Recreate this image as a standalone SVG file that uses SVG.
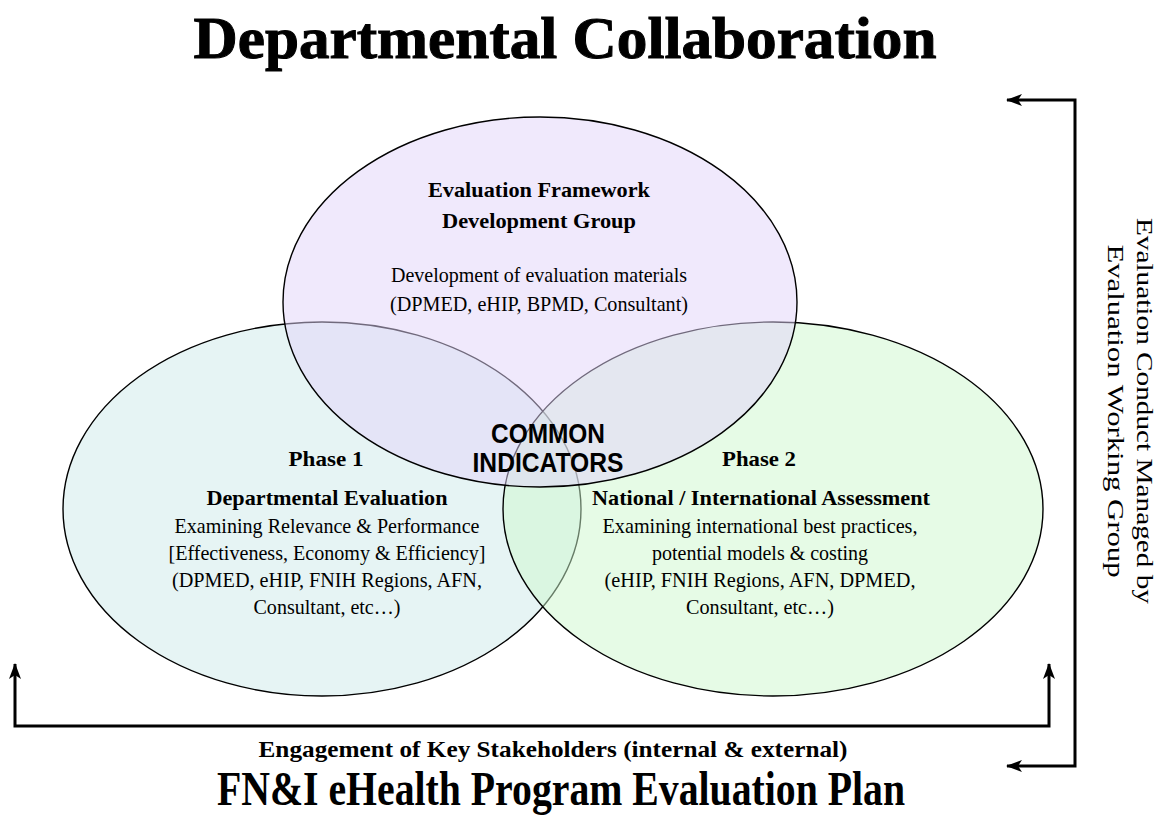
<svg xmlns="http://www.w3.org/2000/svg" width="1165" height="818" viewBox="0 0 1165 818">
<defs>
<style>
.serif{font-family:"Liberation Serif","Times New Roman",serif;fill:#000}
.b{font-weight:bold}
.sans{font-family:"Liberation Sans",Arial,sans-serif;font-weight:bold;fill:#000}
.ell{stroke:#000;stroke-width:1.4;fill-opacity:0.5}
.conn{fill:none;stroke:#000;stroke-width:3}
</style>
<marker id="arr" viewBox="0 0 16 12" refX="15" refY="6" markerWidth="16" markerHeight="12" markerUnits="userSpaceOnUse" orient="auto-start-reverse">
<path d="M0,0 L16,6 L0,12 L4,6 Z" fill="#000"/>
</marker>
</defs>
<rect width="1165" height="818" fill="#fff"/>

<text class="serif b" x="565" y="58" font-size="60" text-anchor="middle" textLength="743" lengthAdjust="spacingAndGlyphs" stroke="#000" stroke-width="1">Departmental Collaboration</text>

<g id="phase1">
<ellipse class="ell" cx="322" cy="509" rx="259" ry="187" fill="#cde9e9"/>
<text class="serif b" x="326" y="466" font-size="22" text-anchor="middle" textLength="75" lengthAdjust="spacingAndGlyphs">Phase 1</text>
<text class="serif b" x="327" y="505" font-size="22" text-anchor="middle" textLength="241" lengthAdjust="spacingAndGlyphs">Departmental Evaluation</text>
<text class="serif" x="327" y="533" font-size="21" text-anchor="middle" textLength="305" lengthAdjust="spacingAndGlyphs">Examining Relevance &amp; Performance</text>
<text class="serif" x="327" y="560" font-size="21" text-anchor="middle" textLength="317" lengthAdjust="spacingAndGlyphs">[Effectiveness, Economy &amp; Efficiency]</text>
<text class="serif" x="327" y="587" font-size="21" text-anchor="middle" textLength="310" lengthAdjust="spacingAndGlyphs">(DPMED, eHIP, FNIH Regions, AFN,</text>
<text class="serif" x="327" y="614" font-size="21" text-anchor="middle" textLength="147" lengthAdjust="spacingAndGlyphs">Consultant, etc…)</text>
</g>

<g id="phase2">
<ellipse class="ell" cx="773" cy="509" rx="270" ry="187" fill="#cdf8cd"/>
<text class="serif b" x="759" y="466" font-size="22" text-anchor="middle" textLength="74" lengthAdjust="spacingAndGlyphs">Phase 2</text>
<text class="serif b" x="761" y="505" font-size="22" text-anchor="middle" textLength="338" lengthAdjust="spacingAndGlyphs">National / International Assessment</text>
<text class="serif" x="760" y="533" font-size="21" text-anchor="middle" textLength="315" lengthAdjust="spacingAndGlyphs">Examining international best practices,</text>
<text class="serif" x="760" y="560" font-size="21" text-anchor="middle" textLength="216" lengthAdjust="spacingAndGlyphs">potential models &amp; costing</text>
<text class="serif" x="760" y="587" font-size="21" text-anchor="middle" textLength="311" lengthAdjust="spacingAndGlyphs">(eHIP, FNIH Regions, AFN, DPMED,</text>
<text class="serif" x="760" y="614" font-size="21" text-anchor="middle" textLength="148" lengthAdjust="spacingAndGlyphs">Consultant, etc…)</text>
</g>

<g id="framework">
<ellipse class="ell" cx="540" cy="302" rx="257" ry="185" fill="#e2d4fa"/>
<text class="serif b" x="539" y="197" font-size="22" text-anchor="middle" textLength="222" lengthAdjust="spacingAndGlyphs">Evaluation Framework</text>
<text class="serif b" x="539" y="228" font-size="22" text-anchor="middle" textLength="194" lengthAdjust="spacingAndGlyphs">Development Group</text>
<text class="serif" x="539" y="282" font-size="21" text-anchor="middle" textLength="296" lengthAdjust="spacingAndGlyphs">Development of evaluation materials</text>
<text class="serif" x="539" y="311" font-size="21" text-anchor="middle" textLength="298" lengthAdjust="spacingAndGlyphs">(DPMED, eHIP, BPMD, Consultant)</text>
</g>

<g id="common">
<text class="sans" x="548" y="443" font-size="27" text-anchor="middle" textLength="114" lengthAdjust="spacingAndGlyphs">COMMON</text>
<text class="sans" x="548" y="472" font-size="27" text-anchor="middle" textLength="151" lengthAdjust="spacingAndGlyphs">INDICATORS</text>
</g>

<g id="connectors">
<path class="conn" d="M15,664 L15,726 L1049,726 L1049,664" marker-start="url(#arr)" marker-end="url(#arr)"/>
<path class="conn" d="M1007,100 L1075,100 L1075,766 L1007,766" marker-start="url(#arr)" marker-end="url(#arr)"/>
</g>

<g id="stakeholders">
<text class="serif b" x="553" y="757" font-size="23" text-anchor="middle" textLength="589" lengthAdjust="spacingAndGlyphs">Engagement of Key Stakeholders (internal &amp; external)</text>
</g>

<g id="working-group">
<text class="serif" transform="translate(1137,411) rotate(90)" x="0" y="0" font-size="24" text-anchor="middle" textLength="386" lengthAdjust="spacingAndGlyphs">Evaluation Conduct Managed by</text>
<text class="serif" transform="translate(1108,411) rotate(90)" x="0" y="0" font-size="24" text-anchor="middle" textLength="333" lengthAdjust="spacingAndGlyphs">Evaluation Working Group</text>
</g>

<text class="serif b" x="561" y="805" font-size="48" text-anchor="middle" textLength="688" lengthAdjust="spacingAndGlyphs">FN&amp;I eHealth Program Evaluation Plan</text>
</svg>
